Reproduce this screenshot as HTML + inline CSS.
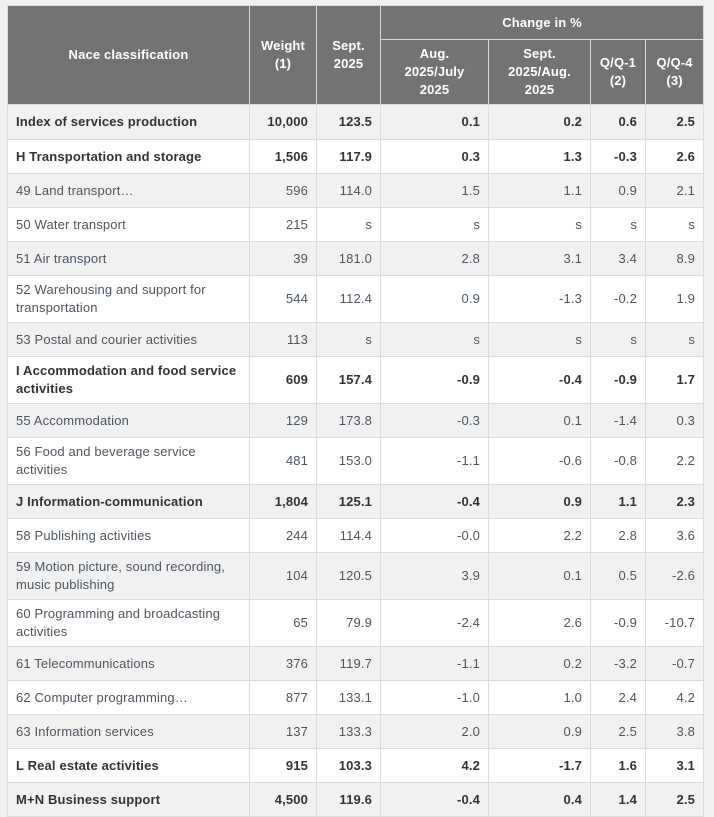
<!DOCTYPE html>
<html><head><meta charset="utf-8">
<style>
html,body{margin:0;padding:0;background:#f0f0f0;width:714px;height:816px;overflow:hidden}
table{position:absolute;left:7px;top:5px;border-collapse:collapse;table-layout:fixed;width:696px;font-family:"Liberation Sans",sans-serif;font-size:13px;letter-spacing:0.15px}
th{background:#737373;color:#fff;font-weight:bold;border:1px solid #d8d8d8;text-align:center;line-height:18px;padding:0 4px}
td{border:1px solid #dcdcdc;padding:0 8px;line-height:18px;color:#4c5660;text-align:right;white-space:nowrap}
td:first-child{text-align:left}
tbody tr:nth-child(odd) td{background:#f1f1f1}
tbody tr:nth-child(even) td{background:#fff}
tr.b td{font-weight:bold;color:#333}
</style></head><body>
<table>
<colgroup><col style="width:242px"><col style="width:67px"><col style="width:64px"><col style="width:108px"><col style="width:102px"><col style="width:55px"><col style="width:58px"></colgroup>
<thead>
<tr style="height:34px"><th rowspan="2">Nace classification</th><th rowspan="2">Weight<br>(1)</th><th rowspan="2">Sept.<br>2025</th><th colspan="4">Change in %</th></tr>
<tr style="height:65px"><th>Aug.<br>2025/July<br>2025</th><th>Sept.<br>2025/Aug.<br>2025</th><th>Q/Q-1<br>(2)</th><th>Q/Q-4<br>(3)</th></tr>
</thead>
<tbody>
<tr class="b" style="height:35px"><td>Index of services production</td><td>10,000</td><td>123.5</td><td>0.1</td><td>0.2</td><td>0.6</td><td>2.5</td></tr>
<tr class="b" style="height:34px"><td>H Transportation and storage</td><td>1,506</td><td>117.9</td><td>0.3</td><td>1.3</td><td>-0.3</td><td>2.6</td></tr>
<tr style="height:34px"><td>49 Land transport…</td><td>596</td><td>114.0</td><td>1.5</td><td>1.1</td><td>0.9</td><td>2.1</td></tr>
<tr style="height:34px"><td>50 Water transport</td><td>215</td><td>s</td><td>s</td><td>s</td><td>s</td><td>s</td></tr>
<tr style="height:34px"><td>51 Air transport</td><td>39</td><td>181.0</td><td>2.8</td><td>3.1</td><td>3.4</td><td>8.9</td></tr>
<tr style="height:47px"><td>52 Warehousing and support for<br>transportation</td><td>544</td><td>112.4</td><td>0.9</td><td>-1.3</td><td>-0.2</td><td>1.9</td></tr>
<tr style="height:34px"><td>53 Postal and courier activities</td><td>113</td><td>s</td><td>s</td><td>s</td><td>s</td><td>s</td></tr>
<tr class="b" style="height:47px"><td>I Accommodation and food service<br>activities</td><td>609</td><td>157.4</td><td>-0.9</td><td>-0.4</td><td>-0.9</td><td>1.7</td></tr>
<tr style="height:34px"><td>55 Accommodation</td><td>129</td><td>173.8</td><td>-0.3</td><td>0.1</td><td>-1.4</td><td>0.3</td></tr>
<tr style="height:47px"><td>56 Food and beverage service<br>activities</td><td>481</td><td>153.0</td><td>-1.1</td><td>-0.6</td><td>-0.8</td><td>2.2</td></tr>
<tr class="b" style="height:34px"><td>J Information-communication</td><td>1,804</td><td>125.1</td><td>-0.4</td><td>0.9</td><td>1.1</td><td>2.3</td></tr>
<tr style="height:34px"><td>58 Publishing activities</td><td>244</td><td>114.4</td><td>-0.0</td><td>2.2</td><td>2.8</td><td>3.6</td></tr>
<tr style="height:47px"><td>59 Motion picture, sound recording,<br>music publishing</td><td>104</td><td>120.5</td><td>3.9</td><td>0.1</td><td>0.5</td><td>-2.6</td></tr>
<tr style="height:47px"><td>60 Programming and broadcasting<br>activities</td><td>65</td><td>79.9</td><td>-2.4</td><td>2.6</td><td>-0.9</td><td>-10.7</td></tr>
<tr style="height:34px"><td>61 Telecommunications</td><td>376</td><td>119.7</td><td>-1.1</td><td>0.2</td><td>-3.2</td><td>-0.7</td></tr>
<tr style="height:34px"><td>62 Computer programming…</td><td>877</td><td>133.1</td><td>-1.0</td><td>1.0</td><td>2.4</td><td>4.2</td></tr>
<tr style="height:34px"><td>63 Information services</td><td>137</td><td>133.3</td><td>2.0</td><td>0.9</td><td>2.5</td><td>3.8</td></tr>
<tr class="b" style="height:34px"><td>L Real estate activities</td><td>915</td><td>103.3</td><td>4.2</td><td>-1.7</td><td>1.6</td><td>3.1</td></tr>
<tr class="b" style="height:34px"><td>M+N Business support</td><td>4,500</td><td>119.6</td><td>-0.4</td><td>0.4</td><td>1.4</td><td>2.5</td></tr>
</tbody>
</table>
</body></html>
